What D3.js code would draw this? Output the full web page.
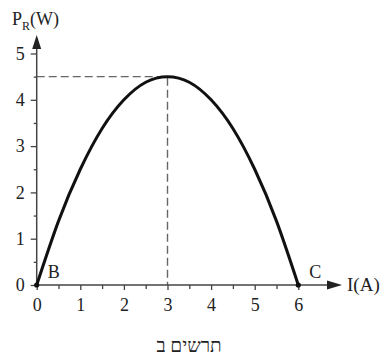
<!DOCTYPE html>
<html>
<head>
<meta charset="utf-8">
<script src="https://cdn.jsdelivr.net/npm/d3@7"></script>
<style>
body { margin: 0; background: #fff; }
text { font-family: "Liberation Serif", "DejaVu Serif", serif; fill: #222; }
</style>
</head>
<body>
<div id="main"></div>
<script>
const W = 382, H = 358;

// data
const currents = [0, 0.5, 1, 1.5, 2, 2.5, 3, 3.5, 4, 4.5, 5, 5.5, 6];
const powers = [0, 1.38, 2.5, 3.38, 4.0, 4.38, 4.5, 4.38, 4.0, 3.38, 2.5, 1.38, 0];
const xTicks = [0, 1, 2, 3, 4, 5, 6];
const xMinor = [0.5, 1.5, 2.5, 3.5, 4.5, 5.5];
const yTicks = [0, 1, 2, 3, 4, 5];
const yMinor = [0.5, 1.5, 2.5, 3.5, 4.5];
const peak = { i: 3, p: 4.5 };
const points = [{ i: 0, p: 0, name: "B" }, { i: 6, p: 0, name: "C" }];

const svg = d3.select("#main").append("svg")
    .attr("width", W).attr("height", H);

const x = d3.scaleLinear().domain([0, 6]).range([36.7, 298.3]);
const y = d3.scaleLinear().domain([0, 5]).range([285, 53.5]);

// dashed guides to the maximum
svg.append("path")
    .attr("d", `M${x(0)},${y(peak.p)}H${x(peak.i)}V${y(0)}`)
    .attr("fill", "none")
    .attr("stroke", "#666")
    .attr("stroke-width", 1.4)
    .attr("stroke-dasharray", "8,4");

// x axis ticks
const gx = svg.append("g").attr("transform", `translate(0,${y(0)})`);
gx.call(d3.axisBottom(x).tickValues(xTicks).tickSize(5).tickPadding(8).tickFormat(d3.format("d")));
gx.append("g").call(d3.axisBottom(x).tickValues(xMinor).tickSize(4).tickFormat(""));
gx.selectAll(".domain").remove();
gx.selectAll("line").attr("stroke", "#444").attr("stroke-width", 1.3);
gx.selectAll("text").style("font-size", "18px").attr("fill", "#222");

// y axis ticks
const gy = svg.append("g").attr("transform", `translate(${x(0)},0)`);
gy.call(d3.axisLeft(y).tickValues(yTicks).tickSize(6).tickPadding(6).tickFormat(d3.format("d")));
gy.append("g").call(d3.axisLeft(y).tickValues(yMinor).tickSize(3).tickFormat(""));
gy.selectAll(".domain").remove();
gy.selectAll("line").attr("stroke", "#444").attr("stroke-width", 1.3);
gy.selectAll("text").style("font-size", "18px").attr("fill", "#222");

// axis lines with arrow heads
svg.append("line")
    .attr("x1", x(0)).attr("y1", y(0))
    .attr("x2", x(0)).attr("y2", 44)
    .attr("stroke", "#444").attr("stroke-width", 1.5);
svg.append("path")
    .attr("d", `M${x(0)},35L${x(0) + 4.5},49L${x(0) - 4.5},49Z`)
    .attr("fill", "#222");
svg.append("line")
    .attr("x1", x(0)).attr("y1", y(0))
    .attr("x2", 334).attr("y2", y(0))
    .attr("stroke", "#444").attr("stroke-width", 1.5);
svg.append("path")
    .attr("d", `M342,${y(0)}L327,${y(0) - 4.5}L327,${y(0) + 4.5}Z`)
    .attr("fill", "#222");

// curve
const line = d3.line()
    .x((d, i) => x(d))
    .y((d, i) => y(powers[i]))
    .curve(d3.curveNatural);
svg.append("path")
    .attr("d", line(currents))
    .attr("fill", "none")
    .attr("stroke", "#111")
    .attr("stroke-width", 3);

svg.selectAll("circle.pt")
    .data(points)
    .enter().append("circle")
    .attr("class", "pt")
    .attr("cx", d => x(d.i)).attr("cy", d => y(d.p))
    .attr("r", 2.6)
    .attr("fill", "#111");

svg.selectAll("text.pt")
    .data(points)
    .enter().append("text")
    .attr("class", "pt")
    .attr("x", d => x(d.i) + 11).attr("y", d => y(d.p) - 7)
    .style("font-size", "18px")
    .text(d => d.name);

// axis titles
const yt = svg.append("text")
    .attr("x", 12).attr("y", 25)
    .style("font-size", "18px");
yt.append("tspan").text("P");
yt.append("tspan").attr("dy", 5).style("font-size", "12px").text("R");
yt.append("tspan").attr("dy", -5).text("(W)");

svg.append("text")
    .attr("x", 347).attr("y", y(0) + 6)
    .style("font-size", "19px")
    .text("I(A)");

// caption
svg.append("text")
    .attr("x", 189).attr("y", 352)
    .attr("text-anchor", "middle")
    .attr("direction", "rtl")
    .style("font-size", "19px")
    .text("תרשים ב");
</script>
</body>
</html>
